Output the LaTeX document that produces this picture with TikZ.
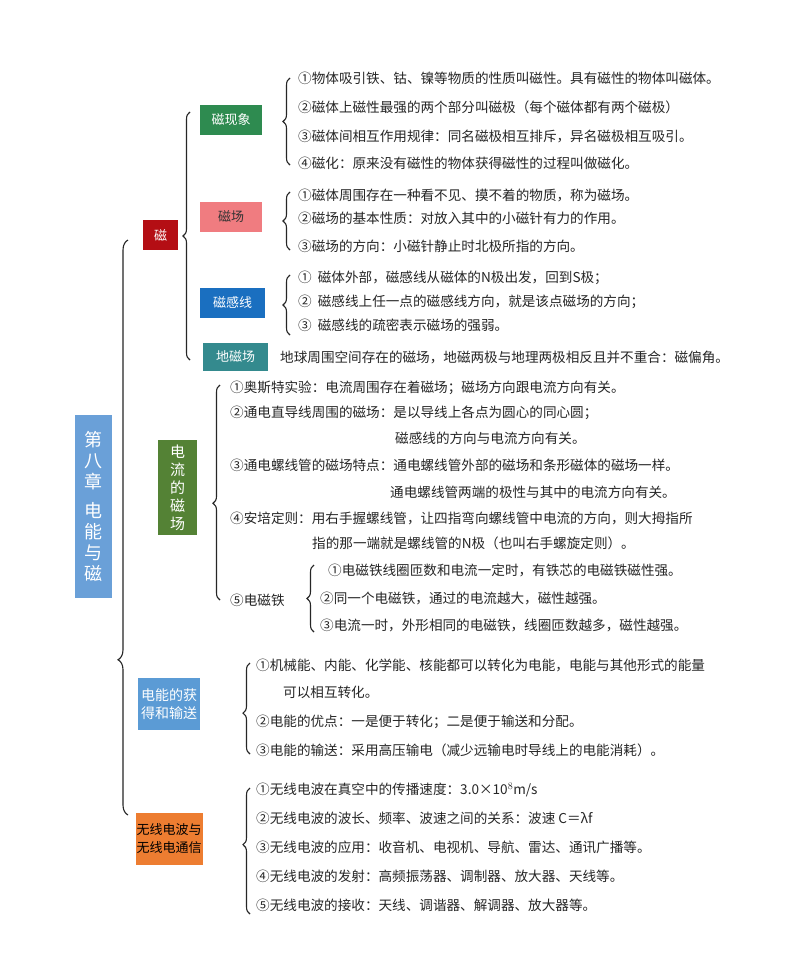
\documentclass[tikz,border=0pt]{standalone}
\usepackage{fontspec}
\setmainfont{Noto Sans CJK SC}
\usetikzlibrary{decorations.pathreplacing}
\begin{document}
\begin{tikzpicture}[x=1pt,y=-1pt,
  br/.style={decorate,decoration={brace,amplitude=7pt,aspect=#1},line width=1.1pt,black!85},
  br/.default=0.5,
  box/.style={minimum width=62pt,minimum height=30pt,inner sep=1pt,font=\fontsize{13}{15}\selectfont,align=center},
  it/.style={anchor=west,inner sep=0pt,font=\fontsize{13.6}{15}\selectfont,text=black!85}]
\useasboundingbox (0,0) rectangle (793,953);
\fill[white] (0,0) rectangle (793,953);
% root
\node[fill={rgb,255:red,106;green,160;blue,216},text=white,minimum width=37pt,minimum height=183pt,align=center,font=\fontsize{18}{21}\selectfont,inner sep=0pt] (root) at (93.5,506) {第\\八\\章\\[8pt]电\\能\\与\\磁};
% main brace
\draw[br=0.27,decoration={amplitude=10pt}] (128,815) -- (128,240);
\node[box,minimum width=35pt,fill={rgb,255:red,180;green,14;blue,20},text=white] (ci) at (160.5,235) {磁};
\node[box,minimum width=39pt,minimum height=95pt,fill={rgb,255:red,84;green,130;blue,53},text=white,font=\fontsize{15}{18}\selectfont] (dl) at (177.5,487.5) {电\\流\\的\\磁\\场};
\node[box,fill={rgb,255:red,91;green,155;blue,213},text=white,minimum height=52pt,font=\fontsize{14}{18}\selectfont] (dn) at (169,704) {电能的获\\得和输送};
\node[box,fill={rgb,255:red,237;green,125;blue,49},text=black,minimum height=52pt,font=\fontsize{13}{18}\selectfont] (wx) at (169,839) {无线电波与\\无线电通信};
% ci brace
\draw[br] (190,360) -- (190,112);
\node[box,fill={rgb,255:red,46;green,139;blue,80},text=white] (xx) at (231,120) {磁现象};
\node[box,fill={rgb,255:red,240;green,124;blue,128},text=black!80] (cc) at (231,217) {磁场};
\node[box,minimum width=65pt,fill={rgb,255:red,26;green,111;blue,192},text=white] (gx) at (232.5,303) {磁感线};
\node[box,minimum width=65pt,minimum height=28pt,fill={rgb,255:red,52;green,138;blue,142},text=white] (dc) at (235.5,357) {地磁场};
\node[it] (dct) at (280,357) {地球周围空间存在的磁场，地磁两极与地理两极相反且并不重合：磁偏角。};
% xx
\draw[br] (290,165) -- (290,78);
\node[it] (a1) at (298,78) {①物体吸引铁、钴、镍等物质的性质叫磁性。具有磁性的物体叫磁体。};
\node[it] (a2) at (298,107) {②磁体上磁性最强的两个部分叫磁极（每个磁体都有两个磁极）};
\node[it] (a3) at (298,136) {③磁体间相互作用规律：同名磁极相互排斥，异名磁极相互吸引。};
\node[it] (a4) at (298,163) {④磁化：原来没有磁性的物体获得磁性的过程叫做磁化。};
\draw[br] (290,250) -- (290,192);
\node[it] (b1) at (298,195) {①磁体周围存在一种看不见、摸不着的物质，称为磁场。};
\node[it] (b2) at (298,218) {②磁场的基本性质：对放入其中的小磁针有力的作用。};
\node[it] (b3) at (298,246) {③磁场的方向：小磁针静止时北极所指的方向。};
\draw[br] (290,335) -- (290,275);
\node[it] (c1) at (298,278) {①\ \ 磁体外部，磁感线从磁体的N极出发，回到S极；};
\node[it] (c2) at (298,302) {②\ \ 磁感线上任一点的磁感线方向，就是该点磁场的方向；};
\node[it] (c3) at (298,325) {③\ \ 磁感线的疏密表示磁场的强弱。};
% dl
\draw[br=0.45] (220,600) -- (220,385);
\node[it] (d1) at (230,388) {①奥斯特实验：电流周围存在着磁场；磁场方向跟电流方向有关。};
\node[it] (d2) at (230,413) {②通电直导线周围的磁场：是以导线上各点为圆心的同心圆；};
\node[it] (d2b) at (395,438) {磁感线的方向与电流方向有关。};
\node[it] (d3) at (230,465) {③通电螺线管的磁场特点：通电螺线管外部的磁场和条形磁体的磁场一样。};
\node[it] (d3b) at (390,492) {通电螺线管两端的极性与其中的电流方向有关。};
\node[it] (d4) at (230,518) {④安培定则：用右手握螺线管，让四指弯向螺线管中电流的方向，则大拇指所};
\node[it] (d4b) at (312,543) {指的那一端就是螺线管的N极（也叫右手螺旋定则）。};
\node[it] (d5) at (230,600) {⑤电磁铁};
\draw[br] (314,632) -- (314,565);
\node[it] (e1) at (328,570) {①电磁铁线圈匝数和电流一定时，有铁芯的电磁铁磁性强。};
\node[it] (e2) at (320,598) {②同一个电磁铁，通过的电流越大，磁性越强。};
\node[it] (e3) at (320,625) {③电流一时，外形相同的电磁铁，线圈匝数越多，磁性越强。};
% dn
\draw[br=0.45] (250,754) -- (250,663);
\node[it] (f1) at (256,665) {①机械能、内能、化学能、核能都可以转化为电能，电能与其他形式的能量};
\node[it] (f1b) at (283,692) {可以相互转化。};
\node[it] (f2) at (256,722) {②电能的优点：一是便于转化；二是便于输送和分配。};
\node[it] (f3) at (256,750) {③电能的输送：采用高压输电（减少远输电时导线上的电能消耗）。};
% wx
\draw[br=0.55] (250,914) -- (250,788);
\node[it] (g1) at (256,790) {①无线电波在真空中的传播速度：3.0×10$^8$m/s};
\node[it] (g2) at (256,818) {②无线电波的波长、频率、波速之间的关系：波速 C＝λf};
\node[it] (g3) at (256,847) {③无线电波的应用：收音机、电视机、导航、雷达、通讯广播等。};
\node[it] (g4) at (256,876) {④无线电波的发射：高频振荡器、调制器、放大器、天线等。};
\node[it] (g5) at (256,905) {⑤无线电波的接收：天线、调谐器、解调器、放大器等。};
\end{tikzpicture}
\end{document}
